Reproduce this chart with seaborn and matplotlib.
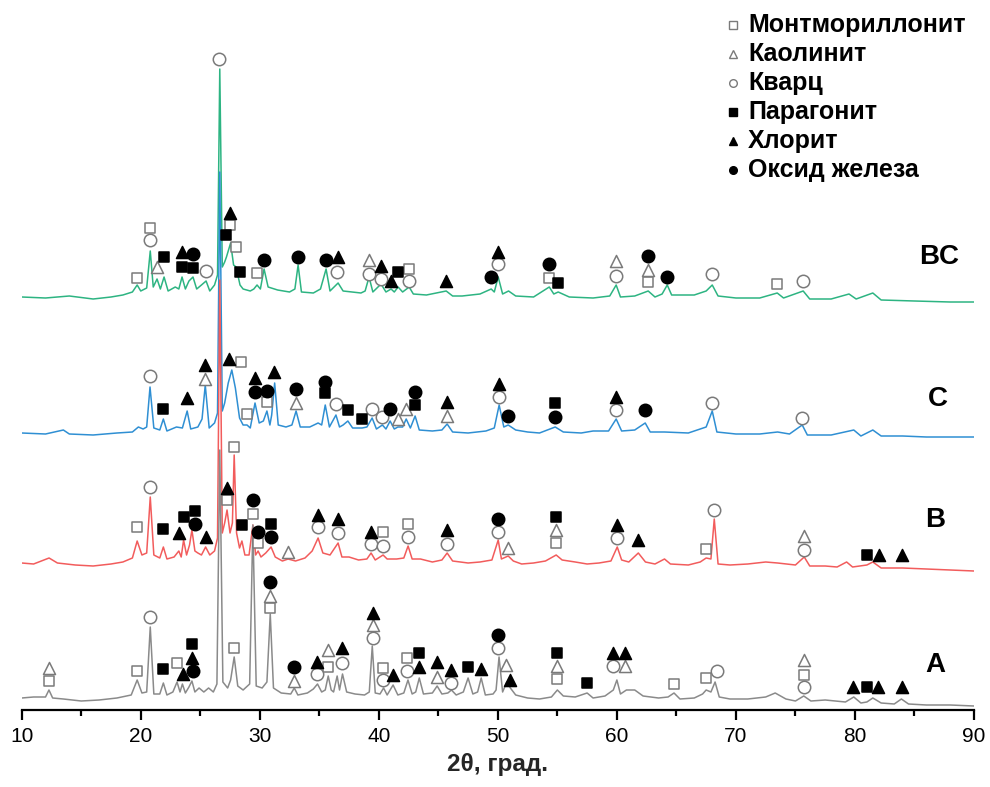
import pandas as pd
import matplotlib
matplotlib.use('Agg')
import matplotlib.pyplot as plt
from matplotlib.lines import Line2D
import seaborn as sns

# XRD traces: (2theta, intensity above the pattern's own baseline)
a_trace = [(10.0, 0), (11.0, 1), (12.0, 1), (12.29, 8), (12.6, 0), (13.5, -1), (15.0, -3), (16.5, -2),
           (18.0, 0), (19.2, 3), (19.7, 18), (20.1, 5), (20.5, 6), (20.8, 71), (21.1, 4), (21.6, 4),
           (21.9, 15), (22.2, 3), (22.7, 6), (23.05, 16), (23.3, 6), (23.5, 14), (23.75, 5), (24.05, 11),
           (24.3, 17), (24.55, 6), (24.9, 10), (25.3, 6), (25.7, 10), (26.1, 6), (26.4, 14), (26.64, 248),
           (26.9, 16), (27.3, 10), (27.55, 18), (27.85, 41), (28.15, 12), (28.6, 8), (29.15, 14),
           (29.42, 173), (29.7, 12), (30.2, 10), (30.6, 16), (30.88, 84), (31.15, 10), (31.8, 5),
           (32.6, 4), (32.9, 10), (33.2, 3), (34.0, 5), (34.5, 9), (34.85, 14), (35.2, 6), (35.5, 8),
           (35.75, 22), (36.0, 8), (36.2, 6), (36.5, 22), (36.7, 8), (36.95, 24), (37.3, 6), (38.0, 4),
           (38.8, 3), (39.2, 6), (39.45, 52), (39.7, 5), (40.1, 4), (40.4, 10), (40.7, 3), (41.2, 13),
           (41.6, 3), (42.1, 5), (42.45, 18), (42.8, 4), (43.1, 6), (43.4, 20), (43.75, 4), (44.5, 5),
           (44.9, 12), (45.3, 4), (45.8, 5), (46.1, 8), (46.5, 3), (47.1, 6), (47.5, 20), (47.9, 4),
           (48.3, 6), (48.6, 20), (48.95, 3), (49.6, 4), (49.85, 8), (50.1, 41), (50.4, 6), (50.75, 16),
           (51.05, 10), (51.5, 3), (52.5, 0), (53.5, -1), (54.5, 1), (55.0, 8), (55.5, 2), (56.5, 1),
           (57.5, 5), (58.0, 0), (59.0, 2), (59.7, 8), (60.0, 18), (60.3, 4), (60.8, 8), (61.5, 8),
           (62.2, 2), (63.5, 0), (64.3, 1), (64.8, 5), (65.3, -1), (66.5, 0), (67.2, 4), (67.5, 8),
           (67.9, 6), (68.25, 16), (68.6, 1), (69.5, -1), (71.0, -1), (72.5, 1), (73.3, 5), (74.2, -1),
           (75.0, -3), (75.7, 2), (76.3, -3), (77.5, -2), (79.2, -4), (79.9, 1), (80.5, -5), (81.0, -4),
           (81.5, 0), (82.2, -5), (83.3, -6), (83.9, -1), (84.5, -6), (86.0, -7), (88.0, -7), (90.0, -8)]

b_trace = [(10.0, 0), (11.0, -1), (12.3, 5), (13.0, 0), (14.5, -2), (16.0, -3), (17.5, -1), (18.5, 1),
           (19.3, 5), (19.7, 22), (20.1, 8), (20.5, 10), (20.8, 66), (21.1, 8), (21.6, 5), (21.9, 16),
           (22.2, 4), (22.8, 6), (23.2, 12), (23.4, 6), (23.6, 23), (23.85, 8), (24.1, 18), (24.3, 33),
           (24.55, 12), (24.8, 10), (25.1, 8), (25.45, 16), (25.8, 8), (26.2, 12), (26.45, 25),
           (26.64, 283), (26.85, 30), (27.05, 40), (27.25, 53), (27.5, 30), (27.7, 40), (27.85, 108),
           (28.05, 30), (28.3, 15), (28.5, 22), (28.75, 8), (29.1, 8), (29.42, 38), (29.65, 8),
           (29.86, 12), (30.1, 6), (30.5, 10), (30.95, 16), (31.3, 6), (31.9, 2), (32.38, 4), (33.0, 2),
           (33.8, 5), (34.4, 12), (34.9, 25), (35.3, 10), (35.9, 8), (36.58, 20), (36.9, 6), (37.5, 6),
           (38.3, 3), (39.0, 4), (39.35, 10), (39.7, 3), (40.36, 8), (40.7, 4), (41.5, 4), (42.1, 5),
           (42.46, 17), (42.8, 4), (43.5, 4), (44.5, 1), (45.3, 3), (45.74, 10), (46.2, 2), (47.5, 0),
           (48.5, 1), (49.5, 3), (50.03, 23), (50.3, 4), (50.87, 7), (51.3, 2), (52.0, -1), (53.0, 0),
           (54.0, 2), (54.9, 8), (55.4, 3), (56.5, 1), (57.5, -1), (58.5, 0), (59.5, 2), (60.03, 16),
           (60.4, 3), (61.0, 1), (61.8, 10), (62.4, 1), (63.2, -1), (64.0, 4), (64.5, -1), (66.0, -2),
           (67.0, 1), (67.5, 5), (67.9, 4), (68.18, 44), (68.5, -1), (69.5, -2), (71.0, -1), (72.5, 1),
           (73.5, 0), (75.0, -2), (75.74, 6), (76.2, -3), (77.5, -3), (78.5, -4), (79.3, 1), (79.8, -4),
           (81.0, -2), (81.5, 1), (82.2, -5), (84.0, -5), (86.0, -6), (88.0, -7), (90.0, -8)]

c_trace = [(10.0, 0), (12.0, -1), (13.5, 3), (14.0, -1), (16.0, -2), (18.0, 0), (19.3, 1), (19.8, 6),
           (20.2, 4), (20.5, 6), (20.78, 46), (21.1, 5), (21.6, 3), (21.9, 14), (22.2, 2), (23.0, 6),
           (23.5, 5), (23.9, 22), (24.2, 4), (24.8, 6), (25.15, 14), (25.42, 48), (25.75, 5), (26.2, 10),
           (26.45, 20), (26.64, 261), (26.85, 22), (27.05, 30), (27.35, 50), (27.65, 63), (27.95, 45),
           (28.3, 15), (28.6, 8), (28.93, 8), (29.2, 5), (29.6, 30), (29.95, 10), (30.3, 12), (30.6, 22),
           (30.85, 8), (31.0, 18), (31.25, 50), (31.55, 8), (32.2, 6), (32.7, 8), (33.05, 22), (33.4, 6),
           (34.2, 6), (34.9, 10), (35.2, 8), (35.5, 28), (35.85, 6), (36.4, 18), (36.7, 6), (37.0, 8),
           (37.4, 12), (37.8, 5), (38.6, 5), (39.0, 6), (39.44, 15), (39.8, 4), (40.3, 8), (40.6, 4),
           (40.95, 12), (41.3, 4), (41.6, 6), (42.0, 6), (42.3, 14), (42.65, 5), (43.05, 17), (43.4, 3),
           (44.5, 2), (45.3, 3), (45.74, 9), (46.2, 1), (47.5, 0), (49.0, 2), (49.7, 5), (50.11, 28),
           (50.5, 6), (50.87, 8), (51.5, 3), (52.5, 1), (53.5, 0), (54.82, 6), (55.5, 1), (57.0, 0),
           (58.0, 2), (59.3, 2), (59.94, 14), (60.4, 2), (61.5, 3), (62.38, 10), (62.8, 1), (64.0, 1),
           (66.0, 0), (67.5, 6), (68.01, 22), (68.4, 1), (70.0, -1), (72.0, -1), (73.5, 1), (74.5, -1),
           (75.57, 8), (76.0, -2), (78.0, -2), (79.9, 3), (80.5, -3), (81.5, 3), (82.2, -3), (84.0, -3),
           (86.0, -4), (88.0, -4), (90.0, -4)]

bc_trace = [(10.0, 0), (12.0, -1), (14.0, 1), (16.0, -2), (17.5, 0), (18.5, 2), (19.3, 5), (19.7, 12),
            (20.0, 6), (20.5, 9), (20.8, 46), (21.05, 10), (21.37, 18), (21.65, 8), (21.96, 20),
            (22.3, 6), (22.9, 10), (23.2, 8), (23.47, 20), (23.75, 8), (24.05, 16), (24.39, 20),
            (24.7, 8), (25.1, 12), (25.49, 16), (25.8, 6), (26.2, 12), (26.45, 22), (26.64, 228),
            (26.85, 30), (27.05, 35), (27.2, 40), (27.55, 54), (27.8, 32), (28.01, 30), (28.34, 12),
            (28.6, 8), (29.2, 6), (29.5, 8), (29.77, 12), (30.05, 8), (30.36, 28), (30.7, 10), (31.5, 7),
            (32.5, 5), (32.95, 8), (33.22, 32), (33.5, 5), (34.5, 4), (35.1, 8), (35.57, 28), (35.9, 6),
            (36.58, 14), (37.0, 6), (38.5, 4), (38.85, 6), (39.18, 20), (39.5, 5), (40.19, 13),
            (40.6, 5), (41.03, 8), (41.3, 5), (41.62, 10), (42.0, 5), (42.55, 10), (42.9, 3), (44.0, 2),
            (45.66, 6), (46.2, 1), (47.0, 1), (48.5, 3), (49.44, 8), (49.7, 5), (50.03, 20), (50.4, 3),
            (50.9, 6), (51.5, 1), (53.0, 0), (54.32, 10), (54.7, 3), (55.07, 5), (56.0, 0), (58.0, -1),
            (59.4, 1), (59.94, 12), (60.3, 0), (61.5, 1), (62.63, 6), (63.2, 0), (63.8, 3), (64.23, 12),
            (64.6, 2), (66.5, 2), (67.5, 6), (68.01, 12), (68.5, 1), (70.0, -1), (72.0, -1), (73.47, 4),
            (74.0, -1), (75.65, 6), (76.2, -2), (78.0, -2), (79.5, 3), (80.1, -2), (81.5, 4), (82.2, -3),
            (85.0, -4), (88.0, -5), (90.0, -5)]

# phase marks: (2theta, height above baseline, phase code)
a_marks = [(12.29, 30, 'K'), (12.29, 17, 'M'), (19.69, 27, 'M'), (20.78, 81, 'Q'), (21.87, 29, 'P'),
           (23.05, 35, 'M'), (23.56, 24, 'H'), (24.31, 54, 'P'), (24.31, 40, 'H'), (24.39, 27, 'F'),
           (27.84, 50, 'M'), (30.86, 116, 'F'), (30.86, 102, 'K'), (30.86, 90, 'M'), (32.88, 31, 'F'),
           (32.88, 17, 'K'), (34.82, 36, 'H'), (34.82, 24, 'Q'), (35.74, 48, 'K'), (35.74, 31, 'M'),
           (36.92, 50, 'H'), (36.92, 35, 'Q'), (39.52, 85, 'H'), (39.52, 73, 'K'), (39.52, 60, 'Q'),
           (40.36, 30, 'M'), (40.36, 18, 'Q'), (41.20, 23, 'H'), (42.38, 40, 'M'), (42.38, 27, 'Q'),
           (43.39, 45, 'P'), (43.39, 31, 'H'), (44.90, 36, 'H'), (44.90, 21, 'K'), (46.08, 28, 'H'),
           (46.08, 15, 'Q'), (47.51, 31, 'P'), (48.60, 29, 'H'), (50.03, 63, 'F'), (50.03, 50, 'Q'),
           (50.70, 33, 'K'), (51.04, 18, 'H'), (54.99, 45, 'P'), (54.99, 32, 'K'), (54.99, 19, 'M'),
           (57.50, 15, 'P'), (59.69, 45, 'H'), (59.69, 32, 'Q'), (60.70, 45, 'H'), (60.70, 32, 'K'),
           (64.82, 14, 'M'), (67.51, 20, 'M'), (68.43, 27, 'Q'), (75.74, 38, 'K'), (75.74, 23, 'M'),
           (75.74, 11, 'Q'), (79.86, 11, 'H'), (81.03, 11, 'P'), (81.96, 11, 'H'), (83.97, 11, 'H')]

b_marks = [(19.69, 36, 'M'), (20.78, 76, 'Q'), (21.87, 34, 'P'), (23.22, 30, 'H'), (23.64, 46, 'P'),
           (24.56, 52, 'P'), (24.56, 39, 'F'), (25.49, 26, 'H'), (27.25, 75, 'H'), (27.25, 63, 'M'),
           (27.84, 116, 'M'), (28.51, 38, 'P'), (29.44, 63, 'F'), (29.44, 49, 'M'), (29.86, 31, 'F'),
           (29.86, 20, 'M'), (30.95, 39, 'P'), (30.95, 26, 'F'), (32.38, 11, 'K'), (34.90, 48, 'H'),
           (34.90, 36, 'Q'), (36.58, 44, 'H'), (36.58, 30, 'Q'), (39.35, 31, 'H'), (39.35, 19, 'Q'),
           (40.36, 31, 'M'), (40.36, 17, 'Q'), (42.46, 39, 'M'), (42.46, 26, 'Q'), (45.74, 33, 'H'),
           (45.74, 19, 'Q'), (50.03, 44, 'F'), (50.03, 31, 'Q'), (50.87, 15, 'K'), (54.90, 46, 'P'),
           (54.90, 33, 'K'), (54.90, 20, 'M'), (60.03, 38, 'H'), (60.03, 25, 'Q'), (61.79, 23, 'H'),
           (67.51, 14, 'M'), (68.18, 53, 'Q'), (75.74, 27, 'K'), (75.74, 13, 'Q'), (81.03, 8, 'P'),
           (82.04, 8, 'H'), (83.97, 8, 'H')]

c_marks = [(20.78, 57, 'Q'), (21.87, 24, 'P'), (23.89, 35, 'H'), (25.40, 68, 'H'), (25.40, 54, 'K'),
           (27.42, 74, 'H'), (28.43, 71, 'M'), (28.93, 19, 'M'), (29.60, 55, 'H'), (29.60, 41, 'F'),
           (30.61, 42, 'F'), (30.61, 31, 'M'), (31.20, 61, 'H'), (33.05, 44, 'F'), (33.05, 30, 'K'),
           (35.49, 51, 'F'), (35.49, 40, 'P'), (36.41, 29, 'Q'), (37.42, 23, 'P'), (38.60, 14, 'P'),
           (39.44, 24, 'Q'), (40.28, 16, 'Q'), (40.95, 24, 'F'), (41.62, 14, 'K'), (42.29, 24, 'K'),
           (43.05, 41, 'F'), (43.05, 28, 'P'), (45.74, 31, 'H'), (45.74, 17, 'K'), (50.11, 49, 'H'),
           (50.11, 36, 'Q'), (50.87, 17, 'F'), (54.82, 30, 'P'), (54.82, 16, 'F'), (59.94, 36, 'H'),
           (59.94, 23, 'Q'), (62.38, 23, 'F'), (68.01, 30, 'Q'), (75.57, 15, 'Q')]

bc_marks = [(19.69, 19, 'M'), (20.78, 69, 'M'), (20.78, 57, 'Q'), (21.37, 30, 'K'), (21.96, 40, 'P'),
            (23.47, 45, 'H'), (23.47, 30, 'P'), (24.39, 43, 'F'), (24.39, 29, 'P'), (25.49, 26, 'Q'),
            (26.58, 238, 'Q'), (27.17, 62, 'P'), (27.50, 84, 'H'), (27.50, 72, 'M'), (28.01, 50, 'M'),
            (28.34, 25, 'P'), (29.77, 24, 'M'), (30.36, 37, 'F'), (33.22, 40, 'F'), (35.57, 37, 'F'),
            (36.58, 40, 'H'), (36.50, 25, 'Q'), (39.18, 37, 'K'), (39.18, 23, 'Q'), (40.19, 31, 'H'),
            (40.19, 18, 'Q'), (41.03, 16, 'H'), (41.62, 25, 'P'), (42.55, 28, 'M'), (42.55, 16, 'Q'),
            (45.66, 16, 'H'), (49.44, 20, 'F'), (50.03, 45, 'H'), (50.03, 33, 'Q'), (54.32, 33, 'F'),
            (54.32, 19, 'M'), (55.07, 14, 'P'), (59.94, 36, 'K'), (59.94, 21, 'Q'), (62.63, 41, 'F'),
            (62.63, 27, 'K'), (62.63, 15, 'M'), (64.23, 20, 'F'), (68.01, 23, 'Q'), (73.47, 13, 'M'),
            (75.65, 16, 'Q')]

samples = ['BC', 'C', 'B', 'A']
phases = ['M', 'K', 'Q', 'P', 'H', 'F']
phase_names = ['Монтмориллонит', 'Каолинит', 'Кварц', 'Парагонит', 'Хлорит', 'Оксид железа']

traces = {'A': a_trace, 'B': b_trace, 'C': c_trace, 'BC': bc_trace}
marks = {'A': a_marks, 'B': b_marks, 'C': c_marks, 'BC': bc_marks}

# vertical stacking of the patterns
offsets = {'A': 12, 'B': 147, 'C': 277, 'BC': 413}
colors = {'A': '#8a8a8a', 'B': '#f25c5c', 'C': '#2f8fd3', 'BC': '#2db482'}
label_pos = {'A': (86.75, 45), 'B': (86.75, 190), 'C': (87.0, 311), 'BC': (87.1, 453)}

gray_edge = '#7a7a7a'
# marker, face, edge, size
styles = {'M': ('s', 'white', gray_edge, 55),
          'K': ('^', 'white', gray_edge, 75),
          'Q': ('o', 'white', gray_edge, 80),
          'P': ('s', 'black', 'black', 50),
          'H': ('^', 'black', 'black', 75),
          'F': ('o', 'black', 'black', 80)}

sns.set_theme(style='white')
plt.rcParams['font.family'] = ['Liberation Sans', 'DejaVu Sans']
plt.rcParams['text.color'] = 'black'
plt.rcParams['xtick.color'] = 'black'

df_lines = pd.concat([pd.DataFrame(traces[s], columns=['theta', 'counts']).assign(sample=s)
                      for s in samples], ignore_index=True)
df_lines['y'] = df_lines['counts'] + df_lines['sample'].map(offsets)

df_marks = pd.concat([pd.DataFrame(marks[s], columns=['theta', 'counts', 'phase']).assign(sample=s)
                      for s in samples], ignore_index=True)
df_marks['y'] = df_marks['counts'] + df_marks['sample'].map(offsets)

fig = plt.figure(figsize=(9.9, 7.87), dpi=100)
ax = fig.add_axes([21.7 / 990, 1 - 710 / 787, (974 - 21.7) / 990, 710 / 787])

for i, s in enumerate(samples):
    sns.lineplot(data=df_lines[df_lines['sample'] == s], x='theta', y='y', sort=False,
                 estimator=None, color=colors[s], linewidth=1.1, ax=ax, zorder=1 + i)
    x, y = label_pos[s]
    ax.text(x, y, s, fontsize=20, fontweight='bold', ha='center', va='center')

for p in phases:
    m, face, edge, size = styles[p]
    sub = df_marks[df_marks['phase'] == p]
    sns.scatterplot(data=sub, x='theta', y='y', marker=m, s=size, color=face,
                    edgecolor=edge, linewidth=1.1, ax=ax, zorder=10, legend=False)

ax.set_xlim(10, 90)
ax.set_ylim(0, 710)
ax.set_yticks([])
ax.set_ylabel('')
for side in ['top', 'right', 'left']:
    ax.spines[side].set_visible(False)
ax.spines['bottom'].set_color('black')
ax.spines['bottom'].set_linewidth(1.6)
ax.set_xticks(range(10, 91, 10))
ax.set_xticks(range(15, 90, 10), minor=True)
ax.tick_params(axis='x', which='major', bottom=True, direction='out', length=7, width=1.6,
               labelsize=15, pad=5)
ax.tick_params(axis='x', which='minor', bottom=True, direction='out', length=4, width=1.6)
ax.set_xlabel('2θ, град.', fontsize=17.5, fontweight='bold', labelpad=5)
ax.patch.set_alpha(0)

# legend drawn by hand to keep the tight row spacing of the original
row_y = [25, 54, 83, 112, 141, 170]
for p, name, yy in zip(phases, phase_names, row_y):
    m, face, edge, size = styles[p]
    fig.add_artist(Line2D([733 / 990], [1 - yy / 787], transform=fig.transFigure, marker=m,
                          markersize=5.5, markerfacecolor=face, markeredgecolor=edge,
                          markeredgewidth=1.0, linestyle=''))
    fig.text(748 / 990, 1 - yy / 787, name, fontsize=18, fontweight='bold', va='center', ha='left')

fig.savefig('out.png', dpi=100, facecolor='white')
